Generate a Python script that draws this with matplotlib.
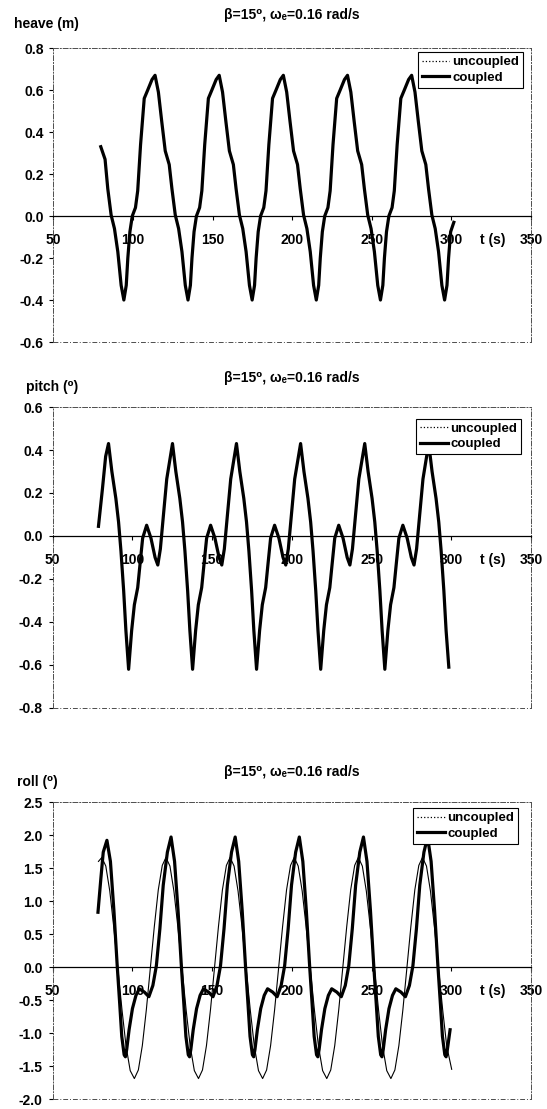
import matplotlib.pyplot as plt
from matplotlib.lines import Line2D

plt.rcParams['font.family'] = ['Liberation Sans', 'DejaVu Sans']
plt.rcParams['font.weight'] = 'bold'

titulo = "β=15⁰, ωₑ=0.16 rad/s"
xticks = [50, 100, 150, 200, 250, 300, 350]
etiquetas = ["uncoupled", "coupled"]

# ---- heave (m): uncoupled and coupled coincide ----
heave_t = [79.7, 82.4, 84.1, 86.2, 88.3, 90.4, 92.5,
           94.2, 95.7, 96.7, 98.0, 99.5, 101.5, 102.9, 104.7, 107.0, 109.2, 111.9, 113.8, 115.9, 118.0, 120.2, 122.7, 124.4, 126.5, 128.6, 130.7, 132.8,
           134.5, 136.0, 137.0, 138.3, 139.8, 141.8, 143.2, 145.0, 147.3, 149.5, 152.2, 154.1, 156.2, 158.3, 160.5, 163.0, 164.7, 166.8, 168.9, 171.0, 173.1,
           174.8, 176.3, 177.3, 178.6, 180.1, 182.1, 183.5, 185.3, 187.6, 189.8, 192.5, 194.4, 196.5, 198.6, 200.8, 203.3, 205.0, 207.1, 209.2, 211.3, 213.4,
           215.1, 216.6, 217.6, 218.9, 220.4, 222.4, 223.8, 225.6, 227.9, 230.1, 232.8, 234.7, 236.8, 238.9, 241.1, 243.6, 245.3, 247.4, 249.5, 251.6, 253.7,
           255.4, 256.9, 257.9, 259.2, 260.7, 262.7, 264.1, 265.9, 268.2, 270.4, 273.1, 275.0, 277.1, 279.2, 281.4, 283.9, 285.6, 287.7, 289.8, 291.9, 294.0,
           295.7, 297.2, 298.2, 299.5, 301.5]
heave_c = [0.33, 0.27, 0.13, 0.005, -0.06, -0.17, -0.33,
           -0.40, -0.33, -0.20, -0.075, 0.00, 0.04, 0.12, 0.34, 0.56, 0.60, 0.65, 0.67, 0.59, 0.45, 0.31, 0.245, 0.13, 0.005, -0.06, -0.17, -0.33,
           -0.40, -0.33, -0.20, -0.075, 0.00, 0.04, 0.12, 0.34, 0.56, 0.60, 0.65, 0.67, 0.59, 0.45, 0.31, 0.245, 0.13, 0.005, -0.06, -0.17, -0.33,
           -0.40, -0.33, -0.20, -0.075, 0.00, 0.04, 0.12, 0.34, 0.56, 0.60, 0.65, 0.67, 0.59, 0.45, 0.31, 0.245, 0.13, 0.005, -0.06, -0.17, -0.33,
           -0.40, -0.33, -0.20, -0.075, 0.00, 0.04, 0.12, 0.34, 0.56, 0.60, 0.65, 0.67, 0.59, 0.45, 0.31, 0.245, 0.13, 0.005, -0.06, -0.17, -0.33,
           -0.40, -0.33, -0.20, -0.075, 0.00, 0.04, 0.12, 0.34, 0.56, 0.60, 0.65, 0.67, 0.59, 0.45, 0.31, 0.245, 0.13, 0.005, -0.06, -0.17, -0.33,
           -0.40, -0.33, -0.20, -0.075, -0.03]
heave_u = heave_c

# ---- pitch (deg): uncoupled and coupled coincide ----
pitch_t = [78.8, 81.3, 83.3,
           85.1, 87.2, 89.7, 91.4, 92.9, 94.6, 96.0, 97.7, 99.6, 101.3, 103.4, 104.8, 106.5, 109.0, 111.7, 114.3, 116.0, 117.6, 119.5, 121.6,
           125.2, 127.3, 129.8, 131.5, 133.0, 134.7, 136.1, 137.8, 139.7, 141.4, 143.5, 144.9, 146.6, 149.1, 151.8, 154.4, 156.1, 157.7, 159.6, 161.7,
           165.3, 167.4, 169.9, 171.6, 173.1, 174.8, 176.2, 177.9, 179.8, 181.5, 183.6, 185.0, 186.7, 189.2, 191.9, 194.5, 196.2, 197.8, 199.7, 201.8,
           205.5, 207.6, 210.1, 211.8, 213.3, 215.0, 216.4, 218.1, 220.0, 221.7, 223.8, 225.2, 226.9, 229.4, 232.1, 234.7, 236.4, 238.0, 239.9, 242.0,
           245.7, 247.8, 250.3, 252.0, 253.5, 255.2, 256.6, 258.3, 260.2, 261.9, 264.0, 265.4, 267.1, 269.6, 272.3, 274.9, 276.6, 278.2, 280.1, 282.2,
           285.8, 287.9, 290.4, 292.1, 293.6, 295.3, 296.7, 298.4]
pitch_c = [0.045, 0.22, 0.37,
           0.43, 0.30, 0.175, 0.065, -0.07, -0.255, -0.44, -0.62, -0.44, -0.32, -0.24, -0.135, -0.01, 0.05, -0.01, -0.10, -0.135, -0.06, 0.095, 0.265,
           0.43, 0.30, 0.175, 0.065, -0.07, -0.255, -0.44, -0.62, -0.44, -0.32, -0.24, -0.135, -0.01, 0.05, -0.01, -0.10, -0.135, -0.06, 0.095, 0.265,
           0.43, 0.30, 0.175, 0.065, -0.07, -0.255, -0.44, -0.62, -0.44, -0.32, -0.24, -0.135, -0.01, 0.05, -0.01, -0.10, -0.135, -0.06, 0.095, 0.265,
           0.43, 0.30, 0.175, 0.065, -0.07, -0.255, -0.44, -0.62, -0.44, -0.32, -0.24, -0.135, -0.01, 0.05, -0.01, -0.10, -0.135, -0.06, 0.095, 0.265,
           0.43, 0.30, 0.175, 0.065, -0.07, -0.255, -0.44, -0.62, -0.44, -0.32, -0.24, -0.135, -0.01, 0.05, -0.01, -0.10, -0.135, -0.06, 0.095, 0.265,
           0.43, 0.30, 0.175, 0.065, -0.07, -0.255, -0.44, -0.61]
pitch_u = pitch_c

# ---- roll (deg) ----
roll_tc = [78.5, 80.3, 81.8,
           84.1, 86.3, 88.5, 90.6, 92.1, 93.4, 94.9, 95.7, 96.5, 98.0, 100.1, 102.3, 104.4, 107.6, 110.4, 112.9, 115.1, 117.3, 119.4, 122.0,
           124.3, 126.5, 128.7, 130.8, 132.3, 133.6, 135.1, 135.9, 136.7, 138.2, 140.3, 142.5, 144.6, 147.8, 150.6, 153.1, 155.3, 157.5, 159.6, 162.2,
           164.5, 166.7, 168.9, 171.0, 172.5, 173.8, 175.3, 176.1, 176.9, 178.4, 180.5, 182.7, 184.8, 188.0, 190.8, 193.3, 195.5, 197.7, 199.8, 202.4,
           204.7, 206.9, 209.1, 211.2, 212.7, 214.0, 215.5, 216.3, 217.1, 218.6, 220.7, 222.9, 225.0, 228.2, 231.0, 233.5, 235.7, 237.9, 240.0, 242.6,
           244.9, 247.1, 249.3, 251.4, 252.9, 254.2, 255.7, 256.5, 257.3, 258.8, 260.9, 263.1, 265.2, 268.4, 271.2, 273.7, 275.9, 278.1, 280.2, 282.8,
           285.1, 287.3, 289.5, 291.6, 293.1, 294.4, 295.9, 296.7, 297.5, 299.2]
roll_c = [0.83, 1.34, 1.74,
          1.92, 1.60, 0.85, 0.00, -0.55, -1.05, -1.33, -1.36, -1.25, -0.95, -0.63, -0.43, -0.33, -0.38, -0.45, -0.28, 0.02, 0.58, 1.24, 1.74,
          1.97, 1.60, 0.85, 0.00, -0.55, -1.05, -1.33, -1.36, -1.25, -0.95, -0.63, -0.43, -0.33, -0.38, -0.45, -0.28, 0.02, 0.58, 1.24, 1.74,
          1.97, 1.60, 0.85, 0.00, -0.55, -1.05, -1.33, -1.36, -1.25, -0.95, -0.63, -0.43, -0.33, -0.38, -0.45, -0.28, 0.02, 0.58, 1.24, 1.74,
          1.97, 1.60, 0.85, 0.00, -0.55, -1.05, -1.33, -1.36, -1.25, -0.95, -0.63, -0.43, -0.33, -0.38, -0.45, -0.28, 0.02, 0.58, 1.24, 1.74,
          1.97, 1.60, 0.85, 0.00, -0.55, -1.05, -1.33, -1.36, -1.25, -0.95, -0.63, -0.43, -0.33, -0.38, -0.45, -0.28, 0.02, 0.58, 1.24, 1.74,
          1.97, 1.60, 0.85, 0.00, -0.55, -1.05, -1.33, -1.36, -1.25, -0.95]
roll_tu = [78.8, 80.9, 83.4, 85.9, 88.4, 91.0, 93.6, 96.1, 98.7,
           101.3, 103.8, 106.3, 108.8, 111.3, 113.8, 116.3, 118.8, 121.1, 123.6, 126.1, 128.6, 131.2, 133.8, 136.3, 138.9,
           141.5, 144.0, 146.5, 149.0, 151.5, 154.0, 156.5, 159.0, 161.3, 163.8, 166.3, 168.8, 171.4, 174.0, 176.5, 179.1,
           181.7, 184.2, 186.7, 189.2, 191.7, 194.2, 196.7, 199.2, 201.5, 204.0, 206.5, 209.0, 211.6, 214.2, 216.7, 219.3,
           221.9, 224.4, 226.9, 229.4, 231.9, 234.4, 236.9, 239.4, 241.7, 244.2, 246.7, 249.2, 251.8, 254.4, 256.9, 259.5,
           262.1, 264.6, 267.1, 269.6, 272.1, 274.6, 277.1, 279.6, 281.9, 284.4, 286.9, 289.4, 292.0, 294.6, 297.1, 300.2]
roll_u = [1.60, 1.66, 1.53, 1.15, 0.60, -0.03, -0.66, -1.20, -1.57,
          -1.69, -1.56, -1.19, -0.65, -0.02, 0.61, 1.17, 1.54, 1.66, 1.53, 1.15, 0.60, -0.03, -0.66, -1.20, -1.57,
          -1.69, -1.56, -1.19, -0.65, -0.02, 0.61, 1.17, 1.54, 1.66, 1.53, 1.15, 0.60, -0.03, -0.66, -1.20, -1.57,
          -1.69, -1.56, -1.19, -0.65, -0.02, 0.61, 1.17, 1.54, 1.66, 1.53, 1.15, 0.60, -0.03, -0.66, -1.20, -1.57,
          -1.69, -1.56, -1.19, -0.65, -0.02, 0.61, 1.17, 1.54, 1.66, 1.53, 1.15, 0.60, -0.03, -0.66, -1.20, -1.57,
          -1.69, -1.56, -1.19, -0.65, -0.02, 0.61, 1.17, 1.54, 1.66, 1.53, 1.15, 0.60, -0.03, -0.66, -1.20, -1.55]

heave_yticks = [-0.6, -0.4, -0.2, 0.0, 0.2, 0.4, 0.6, 0.8]
pitch_yticks = [-0.8, -0.6, -0.4, -0.2, 0.0, 0.2, 0.4, 0.6]
roll_yticks = [-2.0, -1.5, -1.0, -0.5, 0.0, 0.5, 1.0, 1.5, 2.0, 2.5]

FS = 10
FS_LEY = 9.5
borde = (0, (5, 2, 1, 2))


def panel(ax, tu, vu, tc, vc, yticks, ley_pos, lw_u):
    ax.plot(tu, vu, color='black', lw=lw_u, zorder=2)
    ax.plot(tc, vc, color='black', lw=2.3, zorder=3)
    ax.set_xlim(50, 350)
    ax.set_ylim(yticks[0], yticks[-1])
    ax.set_yticks(yticks)
    ax.set_yticklabels([f"{v:.1f}" for v in yticks], fontsize=FS, fontweight='bold')
    ax.set_xticks(xticks)
    ax.set_xticklabels([str(v) for v in xticks], fontsize=FS, fontweight='bold')
    # x axis crosses at zero, frame drawn as a broken line
    ax.spines['bottom'].set_position(('data', 0))
    ax.spines['bottom'].set_linewidth(0.9)
    for s in ['top', 'right', 'left']:
        ax.spines[s].set_linestyle(borde)
        ax.spines[s].set_linewidth(0.7)
        ax.spines[s].set_color('0.3')
    ax.axhline(yticks[0], color='0.3', lw=0.7, ls=borde, clip_on=False)
    ax.tick_params(axis='x', direction='out', length=3, width=0.8, pad=9)
    ax.tick_params(axis='y', direction='out', length=3, width=0.8, pad=4)
    ax.annotate('t (s)', xy=(326, 0), xytext=(0, -12), textcoords='offset points',
                ha='center', va='top', fontsize=FS, fontweight='bold')
    manejadores = [Line2D([], [], color='black', lw=0.9, ls=':'),
                   Line2D([], [], color='black', lw=2.3)]
    ley = ax.legend(manejadores, etiquetas, loc='upper right', bbox_to_anchor=ley_pos,
                    borderaxespad=0, frameon=True, fancybox=False, framealpha=1,
                    edgecolor='black', fontsize=FS_LEY, handlelength=2.1,
                    handletextpad=0.2, borderpad=0.3, labelspacing=0.25)
    ley.get_frame().set_linewidth(0.8)
    ley.set_zorder(5)
    for txt in ley.get_texts():
        txt.set_fontweight('bold')


fig = plt.figure(figsize=(5.47, 11.09), dpi=100)

ax1 = fig.add_axes([0.0978, 0.6916, 0.873, 0.2651])
panel(ax1, heave_t, heave_u, heave_t, heave_c, heave_yticks, (0.983, 0.986), 0.8)

ax2 = fig.add_axes([0.096, 0.3616, 0.875, 0.2714])
panel(ax2, pitch_t, pitch_u, pitch_t, pitch_c, pitch_yticks, (0.979, 0.961), 0.8)

ax3 = fig.add_axes([0.096, 0.0090, 0.875, 0.2678])
panel(ax3, roll_tu, roll_u, roll_tc, roll_c, roll_yticks, (0.973, 0.980), 0.8)

# titles and y-axis names
for y in [0.9865, 0.659, 0.304]:
    fig.text(0.534, y, titulo, ha='center', va='center', fontsize=FS, fontweight='bold')
fig.text(0.026, 0.978, 'heave (m)', ha='left', va='center', fontsize=FS, fontweight='bold')
fig.text(0.047, 0.651, 'pitch (⁰)', ha='left', va='center', fontsize=FS, fontweight='bold')
fig.text(0.031, 0.295, 'roll (⁰)', ha='left', va='center', fontsize=FS, fontweight='bold')

fig.savefig('out.png', dpi=100)
